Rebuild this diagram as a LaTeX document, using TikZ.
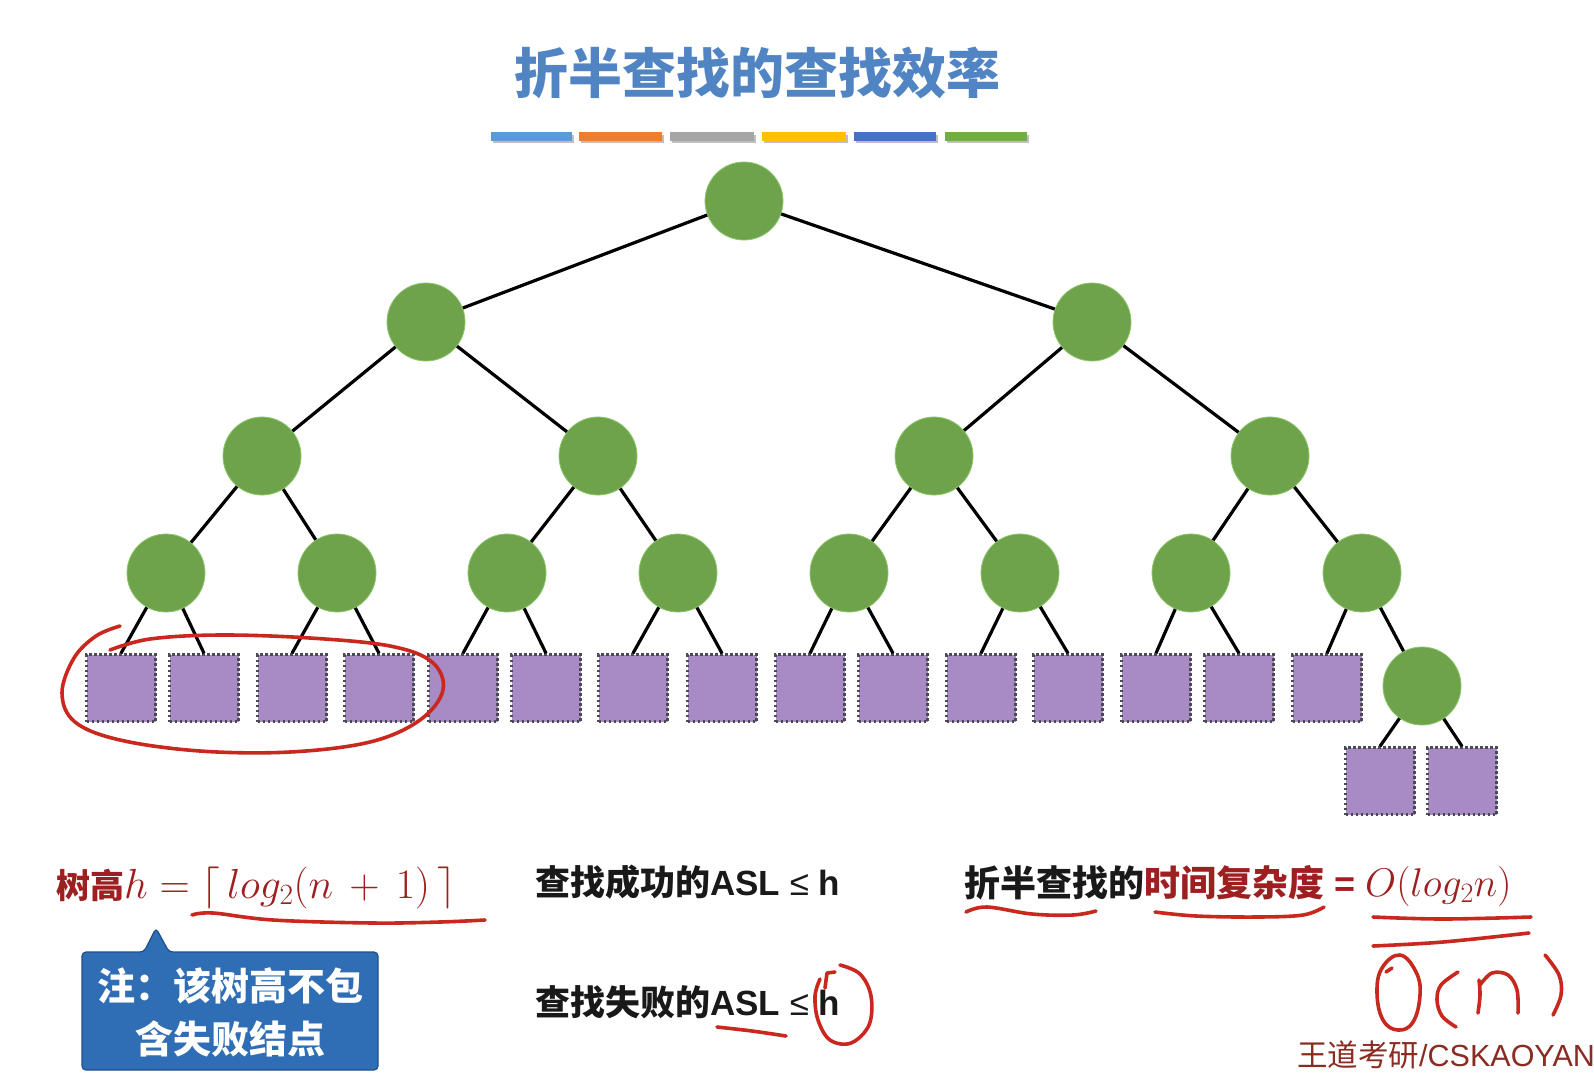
\RequirePackage{fix-cm}
\documentclass[tikz,border=0pt]{standalone}
\usepackage{fontspec}
\setmainfont{Liberation Sans}
\newfontfamily\cjk{Noto Sans CJK SC}
\definecolor{tgreen}{HTML}{6EA34C}
\definecolor{tgreenedge}{HTML}{8CC56A}
\definecolor{tpurple}{HTML}{A88AC5}
\definecolor{tdot}{HTML}{4A4A55}
\definecolor{ttitle}{HTML}{5084C3}
\definecolor{dred}{HTML}{9E1F1F}
\definecolor{hred}{HTML}{C8281E}
\definecolor{cblue}{HTML}{2F6DB5}
\definecolor{cborder}{HTML}{1F4F8C}
\definecolor{wmc}{HTML}{8A2C22}
\definecolor{barA}{HTML}{5B9BD5}
\definecolor{barB}{HTML}{ED7D31}
\definecolor{barC}{HTML}{A5A5A5}
\definecolor{barD}{HTML}{FFC000}
\definecolor{barE}{HTML}{4472C4}
\definecolor{barF}{HTML}{70AD47}
\tikzset{
  inode/.style={circle, fill=tgreen, draw=tgreenedge, line width=0.8pt, minimum size=78pt, inner sep=0pt},
  fnode/.style={rectangle, fill=tpurple, draw=tdot, line width=2.5pt, dash pattern=on 2.4pt off 2.6pt, minimum width=69pt, minimum height=67pt, inner sep=0pt},
  treeline/.style={line width=3.2pt, black},
  hand/.style={draw=hred, line width=3.6pt, line cap=round, line join=round},
}
\begin{document}
\begin{tikzpicture}[x=1pt,y=-1pt]
\useasboundingbox[fill=white] (0,0) rectangle (1594,1079);

% title
\node[anchor=base, inner sep=0pt, text=ttitle, font=\fontsize{54}{60}\selectfont\cjk\bfseries] (title) at (757,93) {折半查找的查找效率};

% colour bars
\foreach \a/\b/\c in {491/572/barA, 579/662/barB, 670/754/barC, 762/846/barD, 854/936/barE, 945/1027/barF}{
  \fill[black!25] (\a+1.5,134.5) rectangle (\b+1.5,143);
  \fill[\c] (\a,132) rectangle (\b,140.5);
}

% tree nodes
\node[inode] (r) at (744,201) {};
\node[inode] (b1) at (426,322) {};
\node[inode] (b2) at (1092,322) {};
\node[inode] (c1) at (262,456) {};
\node[inode] (c2) at (598,456) {};
\node[inode] (c3) at (934,456) {};
\node[inode] (c4) at (1270,456) {};
\foreach \i/\x in {1/166,2/337,3/507,4/678,5/849,6/1020,7/1191,8/1362}
  \node[inode] (d\i) at (\x,573) {};
\node[inode] (e) at (1422,686) {};

% failure nodes
\foreach \i/\x in {1/121,2/204,3/292,4/379,5/463,6/546,7/633,8/722,9/810,10/893,11/981,12/1068,13/1156,14/1239,15/1327}
  \node[fnode] (f\i) at (\x,688) {};
\node[fnode] (g1) at (1380,781) {};
\node[fnode] (g2) at (1462,781) {};

% edges
\draw[treeline] (r) -- (b1);
\draw[treeline] (r) -- (b2);
\draw[treeline] (b1) -- (c1);
\draw[treeline] (b1) -- (c2);
\draw[treeline] (b2) -- (c3);
\draw[treeline] (b2) -- (c4);
\draw[treeline] (c1) -- (d1);
\draw[treeline] (c1) -- (d2);
\draw[treeline] (c2) -- (d3);
\draw[treeline] (c2) -- (d4);
\draw[treeline] (c3) -- (d5);
\draw[treeline] (c3) -- (d6);
\draw[treeline] (c4) -- (d7);
\draw[treeline] (c4) -- (d8);
\foreach \k in {1,...,7}{
  \pgfmathtruncatemacro{\lft}{2*\k-1}
  \pgfmathtruncatemacro{\rgt}{2*\k}
  \draw[treeline] (d\k) -- (f\lft.north);
  \draw[treeline] (d\k) -- (f\rgt.north);
}
\draw[treeline] (d8) -- (f15.north);
\draw[treeline] (d8) -- (e);
\draw[treeline] (e) -- (g1.north);
\draw[treeline] (e) -- (g2.north);

% bottom texts
\node[anchor=base west, inner sep=0pt, text=dred, font=\fontsize{34}{40}\selectfont] (hgt) at (56,898)
  {{\cjk\bfseries 树高}{\fontsize{42}{48}\selectfont$h = \lceil\,log_2(n\,+\,1)\,\rceil$}};

\node[anchor=base west, inner sep=0pt, font=\fontsize{35}{40}\selectfont, text=black!90] (succ) at (535,895)
  {{\cjk\bfseries 查找成功的}\textbf{ASL} ≤ \textbf{h}};
\node[anchor=base west, inner sep=0pt, font=\fontsize{35}{40}\selectfont, text=black!90] (fail) at (535,1015)
  {{\cjk\bfseries 查找失败的}\textbf{ASL} ≤ \textbf{h}};

\node[anchor=base west, inner sep=0pt, font=\fontsize{36}{40}\selectfont, text=black!90] (cplx) at (964,896)
  {{\cjk\bfseries 折半查找的}{\color{dred}\cjk\bfseries 时间复杂度}{\color{dred}\bfseries\ =\ }{\color{dred}\fontsize{40}{48}\selectfont$O(log_2n)$}};

% callout
\draw[fill=cblue, draw=cborder, line width=1.2pt, rounded corners=4pt]
  (82,952) -- (144,952) -- (156,928) -- (169,952) -- (378,952) -- (378,1070) -- (82,1070) -- cycle;
\node[anchor=base, inner sep=0pt, text=white, font=\fontsize{38}{44}\selectfont\cjk\bfseries] (note1) at (230,1000) {注：该树高不包};
\node[anchor=base, inner sep=0pt, text=white, font=\fontsize{38}{44}\selectfont\cjk\bfseries] (note2) at (230,1053) {含失败结点};

% watermark
\node[anchor=base west, inner sep=0pt, text=wmc, font=\fontsize{30.5}{36}\selectfont] (wm) at (1297,1066) {{\cjk 王道考研}/CSKAOYAN};

% hand-drawn annotations
\draw[hand] plot[smooth, tension=0.6] coordinates {(120,626) (96,636) (74,658) (62,693) (75,722) (120,740) (200,751) (290,752) (370,742) (420,720) (443,690) (432,662) (390,646) (310,638) (220,635) (150,639) (110,650)};
\draw[hand] plot[smooth, tension=0.6] coordinates {(192,915) (213,913) (273,920) (373,923) (440,922) (485,920)};
\draw[hand] plot[smooth, tension=0.6] coordinates {(717,1027) (752,1031) (786,1036)};
\draw[hand] plot[smooth, tension=0.6] coordinates {(840,965) (860,974) (871,996) (869,1025) (851,1043) (830,1040) (818,1020) (815,996) (820,979)};
\draw[hand] (835,972) -- (827,973) -- (825,988);
\draw[hand] plot[smooth, tension=0.6] coordinates {(966,912) (987,907) (1032,914) (1073,915) (1096,911)};
\draw[hand] plot[smooth, tension=0.6] coordinates {(1155,912) (1196,916) (1258,917) (1303,915) (1324,907)};
\draw[hand] plot[smooth, tension=0.6] coordinates {(1373,917) (1443,919) (1531,917)};
\draw[hand] plot[smooth, tension=0.6] coordinates {(1373,946) (1443,942) (1529,933)};
% O(n)
\draw[hand] plot[smooth cycle, tension=0.7] coordinates {(1400,955) (1416,972) (1420,995) (1413,1022) (1398,1030) (1383,1020) (1377,993) (1382,968)};
\draw[hand] (1386,972) -- (1392,968);
\draw[hand] plot[smooth, tension=0.6] coordinates {(1458,972) (1441,985) (1437,1000) (1442,1016) (1456,1027)};
\draw[hand] plot[smooth, tension=0.6] coordinates {(1478,1013) (1480,995) (1479,980)};
\draw[hand] plot[smooth, tension=0.6] coordinates {(1480,985) (1492,973) (1508,975) (1517,990) (1518,1013)};
\draw[hand] plot[smooth, tension=0.6] coordinates {(1545,955) (1559,975) (1561,995) (1553,1015)};
\end{tikzpicture}
\end{document}
